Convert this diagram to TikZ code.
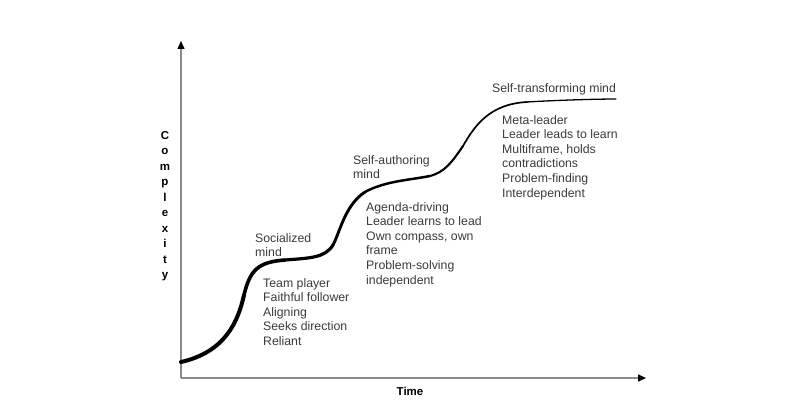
\documentclass[tikz,border=0pt]{standalone}
\usepackage{fontspec}
\setmainfont{Liberation Sans}
\setsansfont{Liberation Sans}
\usetikzlibrary{arrows.meta}
\definecolor{txt}{HTML}{3A3A3A}
\definecolor{axis}{HTML}{8A8A8A}
\tikzset{
  axisline/.style={draw=axis, line width=1.5pt, -{Triangle[length=8pt,width=7pt,color=black]}},
  lbl/.style={anchor=north west, inner sep=0pt, align=left, text=txt,
              font=\fontsize{12.3}{14.6}\selectfont},
  axlbl/.style={inner sep=0pt, text=black, font=\bfseries\fontsize{11.5}{15.5}\selectfont},
  curve/.style={draw=black, line cap=round, line join=round}
}
\begin{document}
\begin{tikzpicture}[x=1pt,y=-1pt]
\useasboundingbox (0,0) rectangle (808,417);
\coordinate (O) at (181,378);
\coordinate (Ytop) at (181,41);
\coordinate (Xend) at (646,378);
\draw[axisline] (O) -- (Ytop);
\draw[axisline] (O) -- (Xend);

\node[axlbl, align=center, anchor=north] (ylab) at (165,131) {C\\o\\m\\p\\l\\e\\x\\i\\t\\y};
\node[axlbl] (xlab) at (410,391) {Time};

% curve with tapering thickness
\coordinate (c0) at (181,362);
\coordinate (c1) at (244,295);
\coordinate (c2) at (285,260);
\coordinate (c3) at (333,245);
\coordinate (c4) at (365,192);
\coordinate (c5) at (430,176);
\coordinate (c6) at (463,146);
\coordinate (c7) at (527,102);
\coordinate (c8) at (616,99);
\draw[curve, line width=4pt] (c0) .. controls (225,352) and (238,322) .. (c1);
\draw[curve, line width=3.6pt] (c1) .. controls (250,270) and (258,262) .. (c2);
\draw[curve, line width=3.2pt] (c2) .. controls (310,258) and (325,258) .. (c3);
\draw[curve, line width=2.9pt] (c3) .. controls (340,232) and (345,205) .. (c4);
\draw[curve, line width=2.5pt] (c4) .. controls (385,181) and (410,180) .. (c5);
\draw[curve, line width=2.1pt] (c5) .. controls (445,172) and (452,162) .. (c6);
\draw[curve, line width=1.7pt] (c6) .. controls (475,125) and (490,104) .. (c7);
\draw[curve, line width=1.3pt] (c7) .. controls (560,100) and (600,99) .. (c8);

\node[lbl] (soc) at (255,233) {Socialized\\mind};
\node[lbl] (socl) at (263,278) {Team player\\Faithful follower\\Aligning\\Seeks direction\\Reliant};
\node[lbl] (sa) at (353,155) {Self-authoring\\mind};
\node[lbl] (sal) at (366,202) {Agenda-driving\\Leader learns to lead\\Own compass, own\\frame\\Problem-solving\\independent};
\node[lbl] (st) at (492,83) {Self-transforming mind};
\node[lbl] (stl) at (502,115) {Meta-leader\\Leader leads to learn\\Multiframe, holds\\contradictions\\Problem-finding\\Interdependent};
\end{tikzpicture}
\end{document}
